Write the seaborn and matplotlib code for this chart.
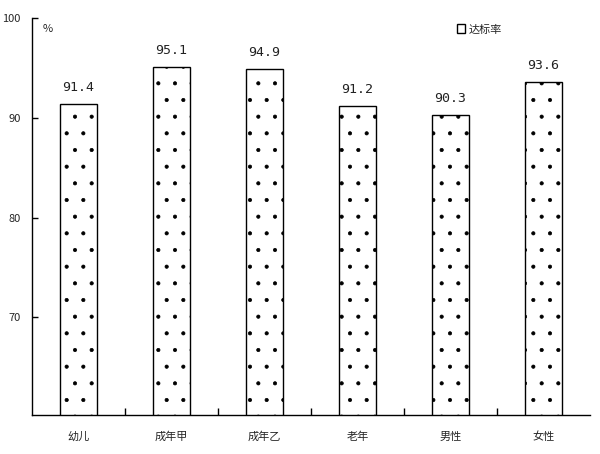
import matplotlib
matplotlib.use("Agg")
import matplotlib.pyplot as plt
import seaborn as sns
import pandas as pd
from matplotlib.patches import Patch

categories = ['幼儿', '成年甲', '成年乙', '老年', '男性', '女性']
rates = [91.4, 95.1, 94.9, 91.2, 90.3, 93.6]
yticks = [70, 80, 90, 100]

sns.set_style('white')
plt.rcParams['font.family'] = ['Noto Sans CJK SC', 'DejaVu Sans']
plt.rcParams['hatch.linewidth'] = 0.5
plt.rcParams['hatch.color'] = '#8a8a8a'

df = pd.DataFrame({'cat': categories, 'rate': rates})

fig = plt.figure(figsize=(6, 4.54), dpi=100)
ax = fig.add_axes([0.053, 0.086, 0.93, 0.874])
sns.barplot(data=df, x='cat', y='rate', ax=ax, width=0.4, color='white',
            edgecolor='black', linewidth=1.0, hatch='.')
ax.set_ylim(60.2, 100)
ax.set_xlim(-0.5, len(categories) - 0.5)
ax.set_yticks(yticks)
ax.set_yticklabels([str(t) for t in yticks], fontsize=8)
ax.set_xticks(range(len(categories)))
ax.set_xticklabels(categories, fontsize=8)
ax.set_xticks([i - 0.5 for i in range(1, len(categories))], minor=True)
ax.tick_params(axis='x', which='major', bottom=True, length=0, pad=12)
ax.tick_params(axis='x', which='minor', bottom=True, direction='in',
               length=5, width=1, color='black')
ax.tick_params(axis='y', left=True, direction='in', length=4, width=1,
               pad=8, color='black')
ax.set_xlabel('')
ax.set_ylabel('')
for s in ['top', 'right']:
    ax.spines[s].set_visible(False)
for s in ['left', 'bottom']:
    ax.spines[s].set_color('black')
    ax.spines[s].set_linewidth(1)

for i, v in enumerate(rates):
    ax.text(i, v + 1.0, f'{v:.1f}', ha='center', va='bottom', fontsize=9.5,
            family='DejaVu Sans Mono', color='#222222')

ax.text(0.02, 0.985, '%', transform=ax.transAxes, fontsize=8, va='top')
ax.legend(handles=[Patch(facecolor='white', edgecolor='black', label='达标率')],
          loc='upper right', bbox_to_anchor=(0.86, 1.01), frameon=False,
          fontsize=8, handlelength=0.7, handleheight=0.9, handletextpad=0.3)

fig.savefig('out.png', dpi=100, facecolor='white')
